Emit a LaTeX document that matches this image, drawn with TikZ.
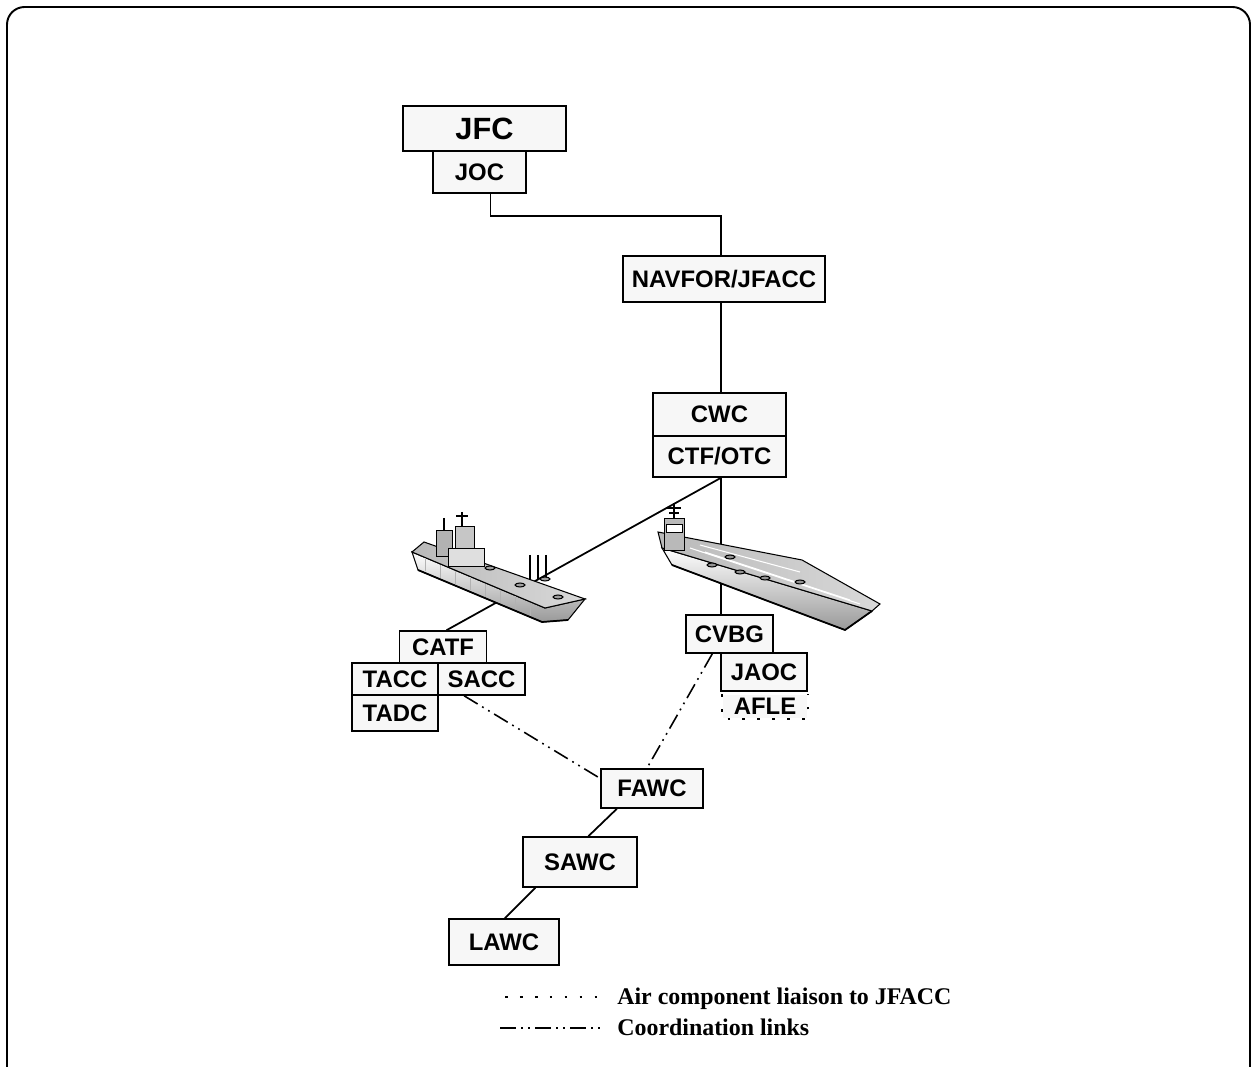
\documentclass[tikz,border=0pt]{standalone}
\usepackage{fontspec}
\setmainfont{Liberation Sans}
\newfontfamily\legendfont{Liberation Serif}
\usetikzlibrary{calc}

\tikzset{
  unitbox/.style={draw, line width=0.9pt, fill=gray!6, inner sep=0pt,
    font=\bfseries\fontsize{13.6}{15}\selectfont},
  link/.style={line width=1pt},
  coordlink/.style={line width=0.9pt, dash pattern=on 9pt off 3pt on 1pt off 3pt on 1pt off 3pt},
  liaison/.style={line width=1pt, dash pattern=on 1.5pt off 7pt},
  hull/.style={line width=0.6pt, top color=white, bottom color=gray!80},
  deck/.style={line width=0.6pt, left color=gray!55, right color=gray!30},
}

\begin{document}
\begin{tikzpicture}[x=0.02cm, y=-0.02cm]
\useasboundingbox (0,0) rectangle (1252,1067);

% frame
\draw[line width=1.1pt, rounded corners=10] (7,1080) -- (7,7) -- (1250,7) -- (1250,1080);

% command units
\node[unitbox, minimum width=3.26cm, minimum height=0.90cm,
  font=\bfseries\fontsize{17.5}{19}\selectfont] (JFC) at (484.5,128.5) {JFC};
\foreach \name/\x/\y/\w/\h/\txt in {
    JOC/479.5/172/1.86/0.84/JOC,
    NAVFOR/724/279/4.04/0.92/NAVFOR\slash JFACC,
    CWC/719.5/414.5/2.66/0.86/CWC,
    CTF/719.5/456.5/2.66/0.82/CTF\slash OTC,
    CATF/443/647/1.74/0.64/CATF,
    TACC/395/679/1.72/0.64/TACC,
    SACC/481.5/679/1.74/0.64/SACC,
    TADC/395/713/1.72/0.72/TADC,
    CVBG/729.5/634/1.74/0.76/CVBG,
    JAOC/764/672/1.72/0.76/JAOC,
    FAWC/652/788.5/2.04/0.78/FAWC,
    SAWC/580/862/2.28/1.00/SAWC,
    LAWC/504/942/2.20/0.92/LAWC} {
  \node[unitbox, minimum width=\w cm, minimum height=\h cm] (\name) at (\x,\y) {\txt};
}
\node[unitbox, draw=none, minimum width=1.68cm, minimum height=0.46cm] (AFLE) at (765,706.5) {AFLE};
\draw[liaison] (AFLE.north west) -- (AFLE.south west) -- (AFLE.south east) -- (AFLE.north east);

% command lines
\coordinate (bend) at (721,216);
\draw[link] (JOC.-63) |- (bend) -- (bend |- NAVFOR.north);
\draw[link] (bend |- NAVFOR.south) -- (bend |- CWC.north);
\draw[link] (bend |- CTF.south) -- (bend |- CVBG.north);
\draw[link] (bend |- CTF.south) -- (CATF.78);
\draw[link] (FAWC.210) -- (SAWC.72);
\draw[link] (SAWC.210) -- (LAWC.88);

% coordination links
\draw[coordlink] (SACC.224) -- (FAWC.169);
\draw[coordlink] (CVBG.229) -- (FAWC.104);

% amphibious ship
\draw[hull] (412,552) -- (545,608) -- (585,599) -- (568,620) -- (542,622) -- (418,570) -- cycle;
\draw[deck] (424,542) -- (585,599) -- (545,608) -- (412,552) -- cycle;
\foreach \x in {425,440,455,470,485,500,515,530} {
  \draw[line width=0.4pt, gray!60] (\x,{552+(\x-412)*0.42+1}) -- ++(0,13);
}
\draw[line width=1pt] (418,570) -- (542,622) -- (568,620);
\draw[line width=0.5pt, fill=gray!60] (436,530) rectangle (452,556);
\draw[line width=0.5pt, fill=gray!45] (455,526) rectangle (474,560);
\draw[line width=0.5pt, fill=gray!25] (448,548) rectangle (484,566);
\draw[line width=0.9pt] (462,512) -- (462,526) (444,518) -- (444,530) (456,516) -- (468,516);
\foreach \x in {530,538,546} {
  \draw[line width=0.8pt] (\x,555) -- (\x,580);
}
\foreach \x\y in {490/568, 520/585, 558/597, 545/579} {
  \draw[line width=0.6pt, fill=gray!75] (\x,\y) ellipse (5 and 2);
}

% carrier
\draw[hull] (662,548) -- (872,611) -- (845,630) -- (672,565) -- cycle;
\draw[line width=1pt] (672,565) -- (845,630) -- (872,611);
\draw[deck] (658,532) -- (802,560) -- (880,604) -- (872,611) -- (662,548) -- cycle;
\draw[line width=0.6pt, white] (690,548) -- (860,604) (700,545) -- (800,572) (705,552) -- (850,600);
\draw[line width=0.5pt, fill=gray!55] (664,518) rectangle (684,550);
\draw[line width=0.5pt, fill=white] (666,524) rectangle (682,532);
\draw[line width=0.9pt] (674,503) -- (674,518) (667,508) -- (681,508) (669,513) -- (679,513);
\foreach \x\y in {712/565, 740/572, 765/578, 800/582, 730/557} {
  \draw[line width=0.6pt, fill=gray!85] (\x,\y) ellipse (5 and 2);
}

% legend
\coordinate (dotA) at (505,997);
\coordinate (dotB) at (600,997);
\coordinate (dashA) at (500,1028);
\coordinate (dashB) at (605,1028);
\draw[liaison] (dotA) -- (dotB);
\draw[coordlink] (dashA) -- (dashB);
\node[anchor=base west, inner sep=0pt, font=\legendfont\bfseries\fontsize{13.6}{15}\selectfont]
  (legliaison) at (617,1004) {Air component liaison to JFACC};
\node[anchor=base west, inner sep=0pt, font=\legendfont\bfseries\fontsize{13.6}{15}\selectfont]
  (legcoord) at (617,1035) {Coordination links};
\end{tikzpicture}
\end{document}
